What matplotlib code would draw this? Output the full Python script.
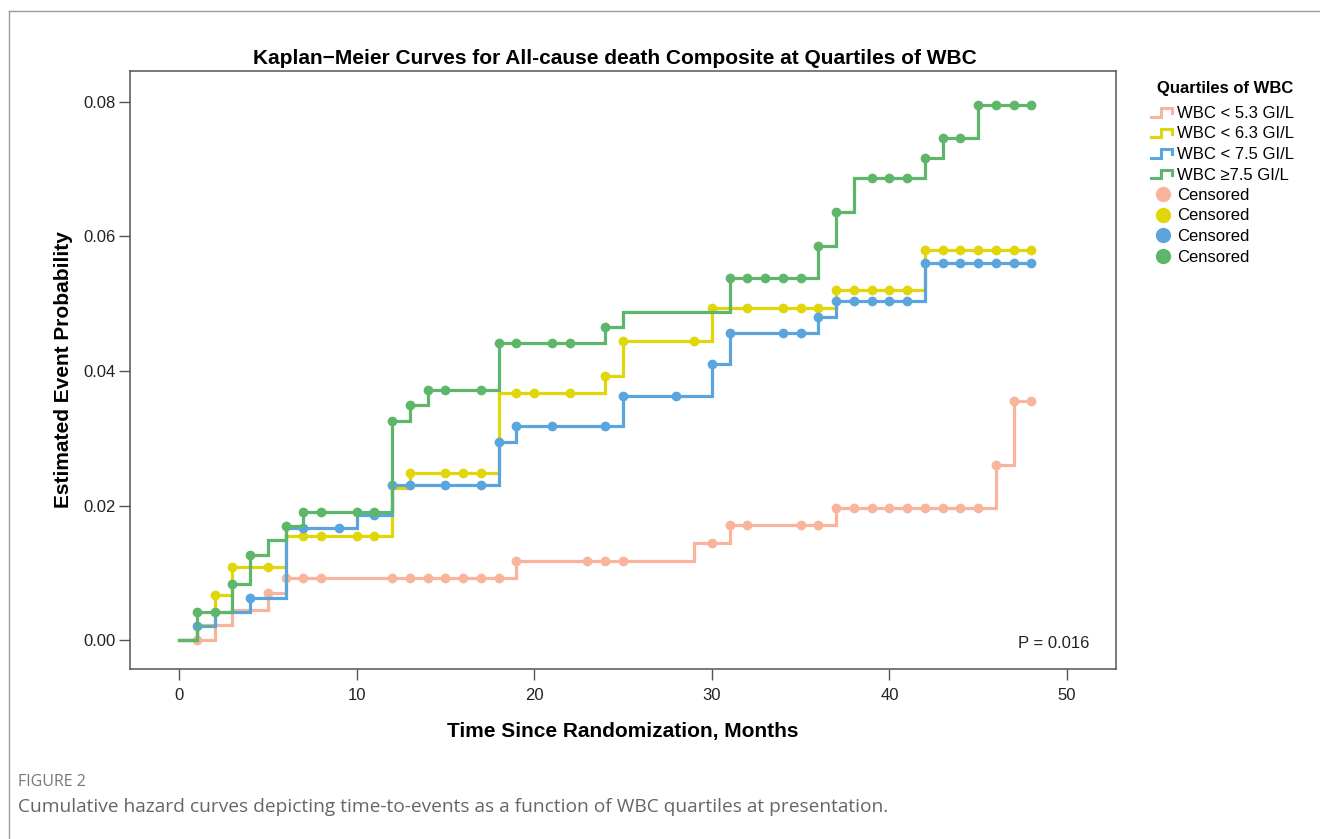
import numpy as np
import matplotlib
matplotlib.use("Agg")
import matplotlib.pyplot as plt
from matplotlib.lines import Line2D
from matplotlib.legend_handler import HandlerBase

plt.rcParams['font.family'] = ['Liberation Sans', 'DejaVu Sans']

# Kaplan-Meier step data (event times in months, cumulative probability)
followup_end = 48

q1_times = [0, 2, 3, 5, 6, 19, 29, 31, 37, 46, 47]
q1_probs = [0, 0.0023, 0.0045, 0.0070, 0.0093, 0.0118, 0.0144, 0.0171, 0.0197, 0.0260, 0.0356]
q1_censor = [1, 5, 6, 7, 8, 12, 13, 14, 15, 16, 17, 18, 19, 23, 24, 25, 30, 31, 32, 35, 36,
             37, 38, 39, 40, 41, 42, 43, 44, 45, 46, 47, 48]

q2_times = [0, 1, 2, 3, 6, 12, 13, 18, 24, 25, 30, 37, 42]
q2_probs = [0, 0.0022, 0.0067, 0.0109, 0.0155, 0.0226, 0.0248, 0.0368, 0.0393, 0.0444,
            0.0494, 0.0520, 0.0580]
q2_censor = [2, 3, 5, 7, 8, 10, 11, 13, 15, 16, 17, 19, 20, 22, 24, 25, 29, 30, 32, 34, 35,
             36, 37, 38, 39, 40, 41, 42, 43, 44, 45, 46, 47, 48]

q3_times = [0, 1, 2, 4, 6, 10, 12, 18, 19, 25, 30, 31, 36, 37, 42]
q3_probs = [0, 0.0021, 0.0042, 0.0062, 0.0166, 0.0186, 0.0230, 0.0295, 0.0318, 0.0363,
            0.0410, 0.0456, 0.0480, 0.0504, 0.0560]
q3_censor = [1, 4, 7, 9, 11, 12, 13, 15, 17, 18, 19, 21, 24, 25, 28, 30, 31, 34, 35, 36,
             37, 38, 39, 40, 41, 42, 43, 44, 45, 46, 47, 48]

q4_times = [0, 1, 3, 4, 5, 6, 7, 12, 13, 14, 18, 24, 25, 31, 36, 37, 38, 42, 43, 45]
q4_probs = [0, 0.0042, 0.0084, 0.0126, 0.0149, 0.0170, 0.0191, 0.0326, 0.0349, 0.0372,
            0.0442, 0.0465, 0.0488, 0.0538, 0.0586, 0.0637, 0.0687, 0.0716, 0.0747, 0.0795]
q4_censor = [1, 2, 3, 4, 6, 7, 8, 10, 11, 12, 13, 14, 15, 17, 18, 19, 21, 22, 24, 31, 32, 33,
             34, 35, 36, 37, 39, 40, 41, 42, 43, 44, 45, 46, 47, 48]

group_labels = ['WBC < 5.3 GI/L', 'WBC < 6.3 GI/L', 'WBC < 7.5 GI/L', 'WBC \u22657.5 GI/L']
group_colors = ['#F8B49C', '#E0D609', '#5BA5DE', '#5DB66A']


class StepHandler(HandlerBase):
    # little step glyph like the SAS legend
    def create_artists(self, legend, orig_handle, xdescent, ydescent, width, height,
                       fontsize, trans):
        xs = np.array([0.0, 0.42, 0.42, 0.88, 0.88]) * width - xdescent
        ys = np.array([0.1, 0.1, 0.85, 0.85, 0.4]) * height - ydescent
        line = Line2D(xs, ys, color=orig_handle.get_color(), lw=2.2,
                      solid_joinstyle='miter')
        line.set_transform(trans)
        return [line]


def main():
    fig = plt.figure(figsize=(13.2, 8.39), dpi=100)
    ax = fig.add_axes([130 / 1320, 1 - 669 / 839, 986 / 1320, 598 / 839])

    groups = [(q1_times, q1_probs, q1_censor), (q2_times, q2_probs, q2_censor),
              (q3_times, q3_probs, q3_censor), (q4_times, q4_probs, q4_censor)]

    for (times, probs, censor), color in zip(groups, group_colors):
        t = np.array(times + [followup_end])
        p = np.array(probs + [probs[-1]])
        ax.step(t, p, where='post', color=color, lw=2.3, solid_joinstyle='miter')
        idx = np.searchsorted(times, censor, side='right') - 1
        ax.plot(censor, np.array(probs)[idx], ls='', marker='o', ms=6, color=color)

    ax.set_xlim(-2.76, 52.76)
    ax.set_ylim(-0.0043, 0.0846)
    ax.set_xticks(range(0, 51, 10))
    ax.set_yticks([0, 0.02, 0.04, 0.06, 0.08])
    ax.set_yticklabels(['0.00', '0.02', '0.04', '0.06', '0.08'])
    ax.tick_params(axis='both', length=8, width=1, color='#555555', labelsize=12,
                   labelcolor='#222222')
    ax.tick_params(axis='x', pad=6)
    ax.tick_params(axis='y', pad=2)
    for s in ax.spines.values():
        s.set_color('#555555')
        s.set_linewidth(1.1)

    ax.set_title('Kaplan\u2212Meier Curves for All-cause death Composite at Quartiles of WBC',
                 fontsize=15, fontweight='bold', pad=5, x=0.492)
    ax.set_xlabel('Time Since Randomization, Months', fontsize=15, fontweight='bold',
                  labelpad=13)
    ax.set_ylabel('Estimated Event Probability', fontsize=15, fontweight='bold',
                  labelpad=8)
    ax.text(0.973, 0.043, 'P = 0.016', transform=ax.transAxes, ha='right', va='center',
            fontsize=12, color='#222222')

    # legend title drawn on its own so the gap under it matches the SAS layout
    fig.text(1293 / 1320, 1 - 88 / 839, 'Quartiles of WBC', ha='right', va='center',
             fontsize=12, fontweight='bold')
    step_handles = [Line2D([], [], color=c) for c in group_colors]
    dot_handles = [Line2D([], [], ls='', marker='o', ms=10, color=c) for c in group_colors]
    fig.legend(step_handles + dot_handles, group_labels + ['Censored'] * 4,
               handler_map={h: StepHandler() for h in step_handles},
               loc='upper left', bbox_to_anchor=(1151 / 1320, 1 - 106 / 839),
               frameon=False, fontsize=12, handlelength=1.45, handletextpad=0.12,
               labelspacing=0.33, borderaxespad=0, borderpad=0)

    # outer frame of the published figure
    fig.add_artist(Line2D([9 / 1320, 1], [1 - 10.5 / 839] * 2, transform=fig.transFigure,
                          color='#9a9a9a', lw=1))
    fig.add_artist(Line2D([9 / 1320] * 2, [0, 1 - 10.5 / 839], transform=fig.transFigure,
                          color='#9a9a9a', lw=1))

    fig.text(18 / 1320, 1 - 782 / 839, 'FIGURE 2', family=['Open Sans', 'DejaVu Sans'],
             fontsize=11.5, color='#777777', va='center')
    fig.text(18 / 1320, 1 - 807 / 839,
             'Cumulative hazard curves depicting time-to-events as a function of WBC '
             'quartiles at presentation.', family=['Open Sans', 'DejaVu Sans'],
             fontsize=13.75, color='#666666', va='center')

    fig.savefig('out.png', dpi=100)


if __name__ == "__main__":
    main()
